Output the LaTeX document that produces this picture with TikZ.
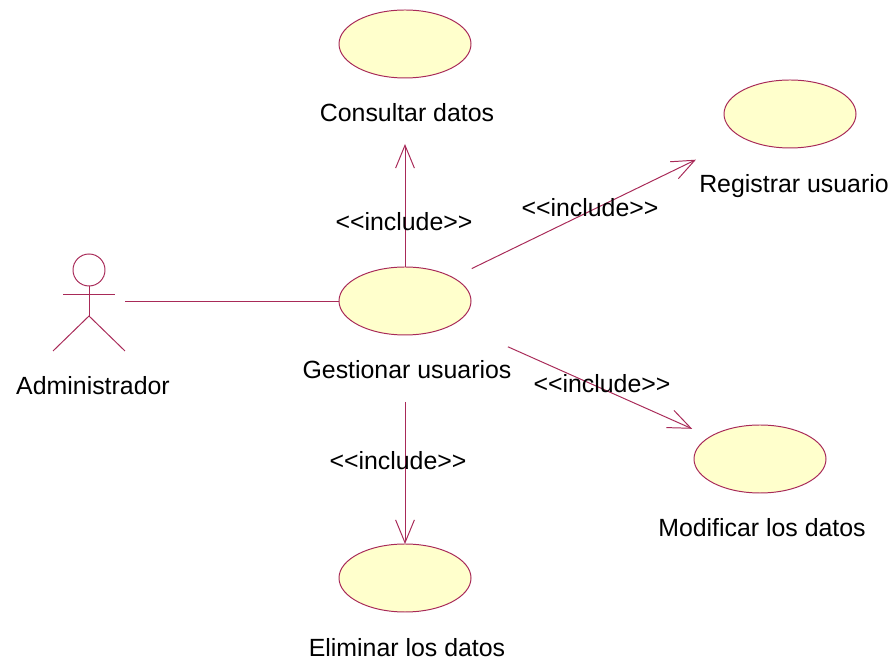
\documentclass[tikz,border=0pt]{standalone}
\usepackage{fontspec}
\setmainfont{Liberation Sans}
\usetikzlibrary{arrows.meta,shapes.geometric}
\definecolor{umlline}{HTML}{A82A58}
\definecolor{umlfill}{HTML}{FFFFCC}
\tikzset{every scope/.style={>={Straight Barb[length=0.57cm,width=0.47cm]},line width=0.7pt}}
\tikzset{usecase/.style={draw=umlline,fill=umlfill,ellipse,inner sep=0pt,outer sep=0pt,minimum width=3.3cm,minimum height=1.7cm}}
\tikzset{txt/.style={font=\fontsize{17.7}{20}\selectfont,text=black,inner sep=0pt}}
\tikzset{incl/.style={->,draw=umlline}}

\begin{document}
\begin{tikzpicture}
  \useasboundingbox (0,0) rectangle (22.4,16.6);
  \begin{scope}
    \node[usecase] (consultar) at (10.125,15.5) {};
    \node[usecase] (registrar) at (19.75,13.75) {};
    \node[usecase] (gestionar) at (10.125,9.075) {};
    \node[usecase] (modificar) at (19,5.125) {};
    \node[usecase] (eliminar)  at (10.125,2.15) {};
    \node[minimum width=1.8cm,minimum height=2.5cm,inner sep=0pt,outer sep=0pt] (actor) at (2.225,9.075) {};

    \draw[umlline] (actor.center) ++(0,0.775) circle (0.4);
    \draw[umlline] (actor.center) ++(0,0.375) -- +(0,-0.75);
    \draw[umlline] (actor.center) ++(-0.65,0.175) -- +(1.3,0);
    \draw[umlline] (actor.center) ++(-0.9,-1.25) -- +(0.9,0.875) -- +(1.8,0);

    \draw[umlline] (actor) -- (gestionar);
    \draw[incl,shorten >=1.65cm]                  (gestionar) -- (consultar);
    \draw[incl,shorten <=0.52cm,shorten >=1.28cm] (gestionar) -- (registrar);
    \draw[incl,shorten <=1.45cm,shorten >=0.49cm] (gestionar) -- (modificar);
    \draw[incl,shorten <=1.67cm]                  (gestionar) -- (eliminar);

    \node[txt] (consultarlabel) at (10.175,13.775) {Consultar datos};
    \node[txt] (registrarlabel) at (19.85,11.95) {Registrar usuario};
    \node[txt] (gestionarlabel) at (10.175,7.35) {Gestionar usuarios};
    \node[txt] (modificarlabel) at (19.05,3.4) {Modificar los datos};
    \node[txt] (eliminarlabel)  at (10.175,0.4) {Eliminar los datos};
    \node[txt] (actorlabel)     at (2.325,6.95) {Administrador};

    \node[txt] (inclconsultar) at (10.1,11.05) {<{}<include>{}>};
    \node[txt] (inclregistrar) at (14.75,11.4) {<{}<include>{}>};
    \node[txt] (inclmodificar) at (15.05,7.0) {<{}<include>{}>};
    \node[txt] (incleliminar)  at (9.95,5.075) {<{}<include>{}>};
  \end{scope}
\end{tikzpicture}
\end{document}
